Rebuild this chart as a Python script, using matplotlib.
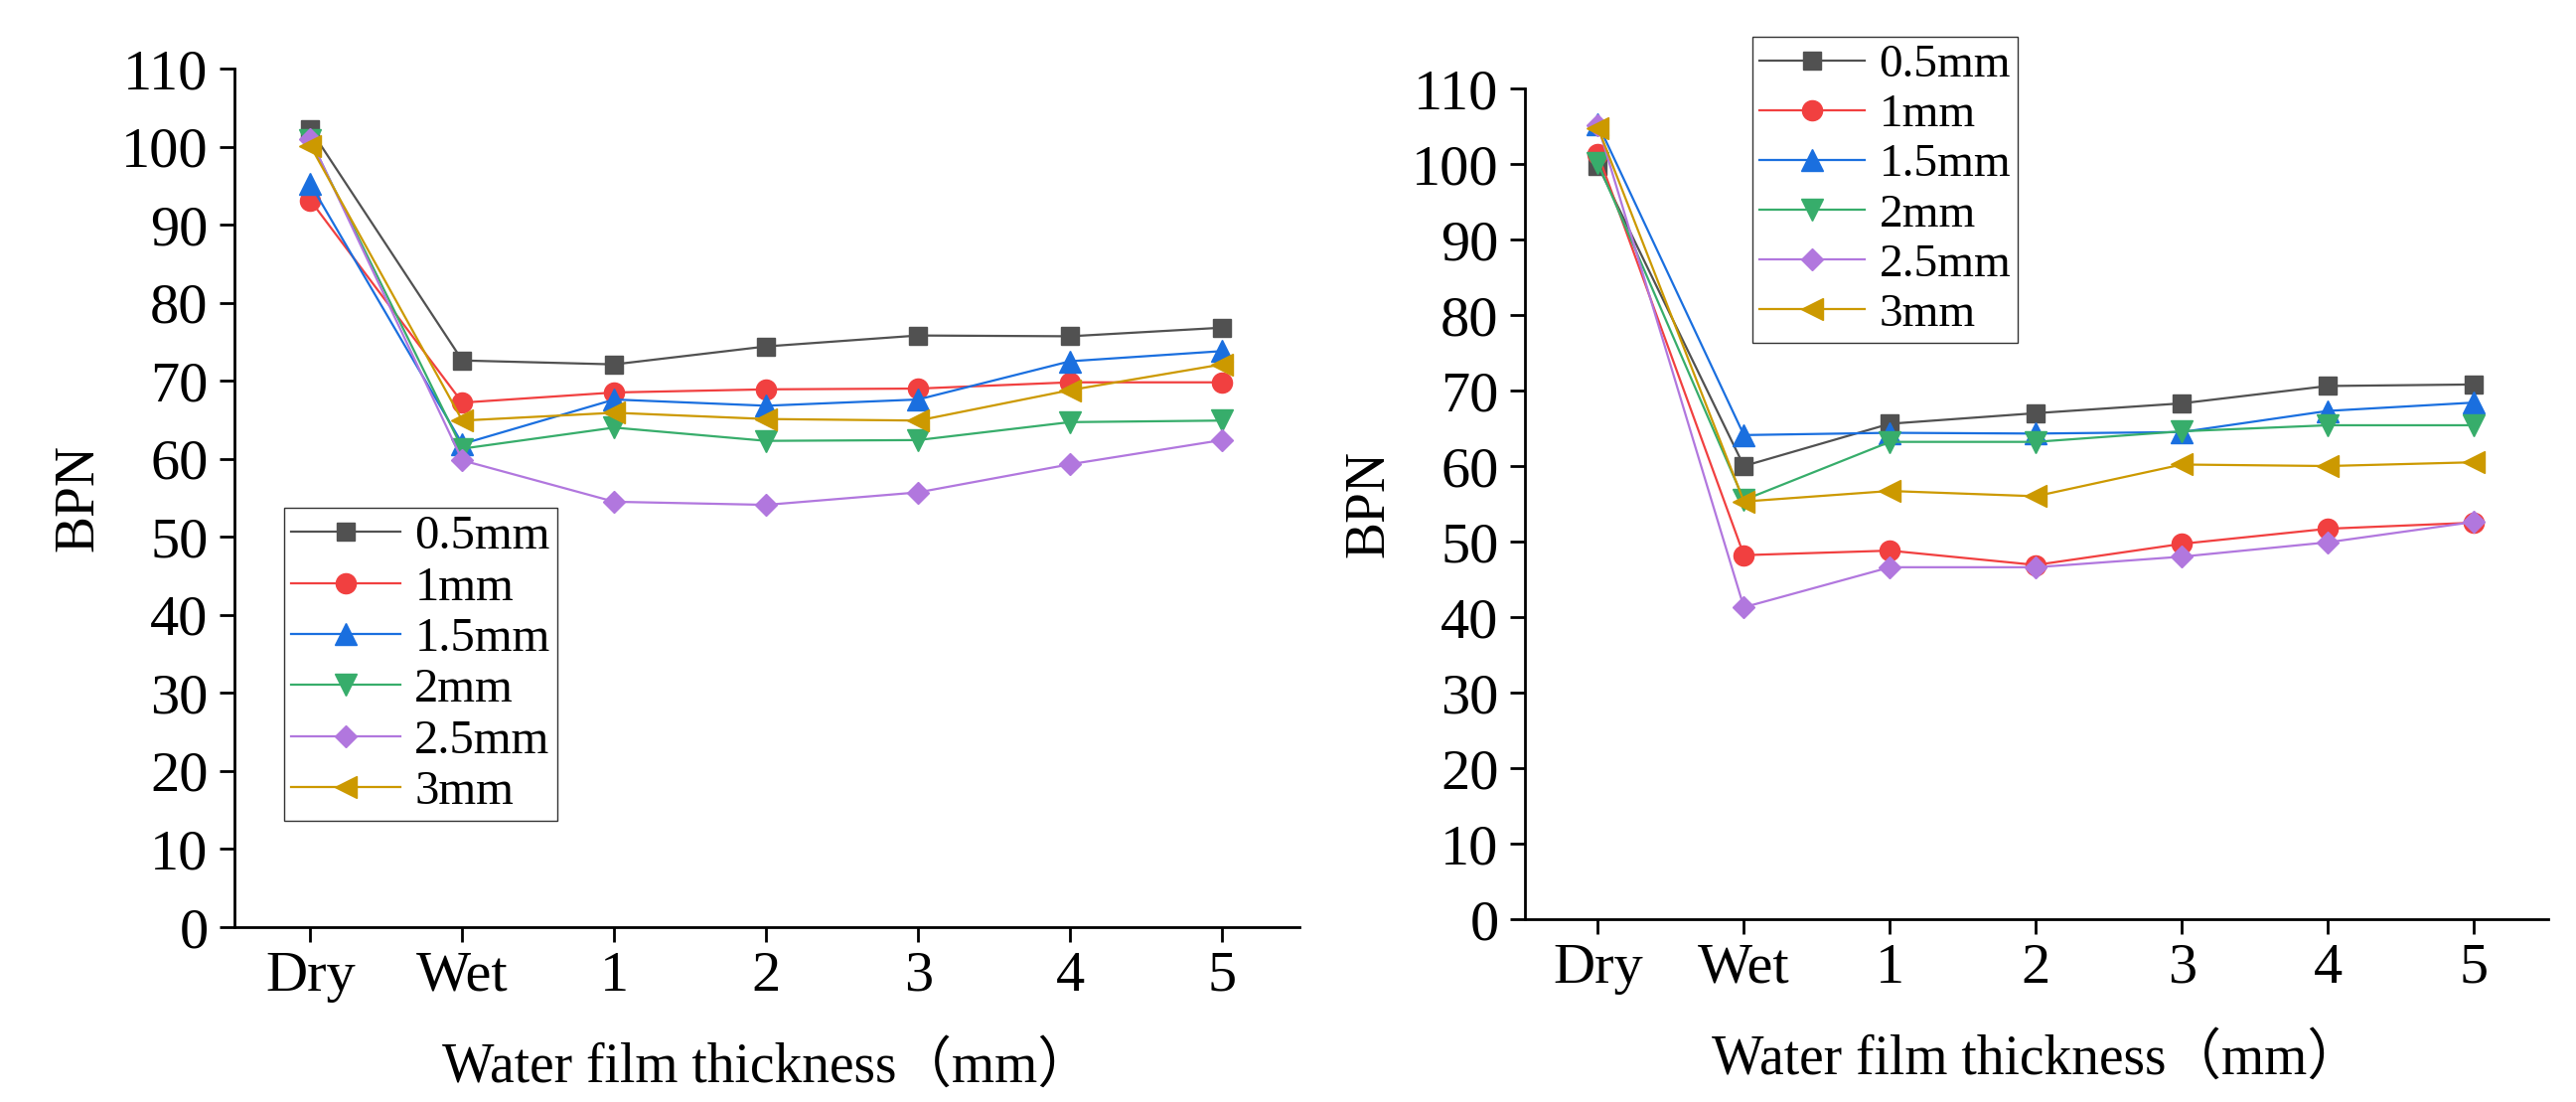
import matplotlib
matplotlib.use('Agg')
import matplotlib.pyplot as plt

plt.rcParams['font.family'] = ['Liberation Serif', 'Noto Sans CJK SC']

# ---------------- data ----------------
categories = ['Dry', 'Wet', '1', '2', '3', '4', '5']
series_labels = ['0.5mm', '1mm', '1.5mm', '2mm', '2.5mm', '3mm']

# left panel
left_05 = [102.2, 72.6, 72.1, 74.4, 75.8, 75.7, 76.8]
left_10 = [93.1, 67.2, 68.5, 68.9, 69.0, 69.8, 69.8]
left_15 = [95.2, 61.9, 67.6, 66.8, 67.6, 72.5, 73.8]
left_20 = [100.8, 61.3, 64.0, 62.3, 62.4, 64.7, 64.9]
left_25 = [101.0, 59.8, 54.5, 54.1, 55.7, 59.3, 62.4]
left_30 = [100.1, 64.9, 65.9, 65.1, 64.9, 68.8, 72.1]

# right panel
right_05 = [99.8, 60.0, 65.6, 67.0, 68.3, 70.6, 70.8]
right_10 = [101.3, 48.2, 48.8, 46.9, 49.7, 51.7, 52.5]
right_15 = [105.3, 64.1, 64.4, 64.3, 64.5, 67.3, 68.4]
right_20 = [100.1, 55.5, 63.2, 63.2, 64.6, 65.4, 65.4]
right_25 = [105.1, 41.3, 46.6, 46.6, 48.0, 49.9, 52.6]
right_30 = [104.8, 55.3, 56.7, 56.0, 60.2, 60.0, 60.5]

y_ticks = [0, 10, 20, 30, 40, 50, 60, 70, 80, 90, 100, 110]

colors = ['#515151', '#F14040', '#1A6FDF', '#37AD6B', '#B177DE', '#CC9900']
markers = ['s', 'o', '^', 'v', 'D', '<']
msizes = [13, 14.5, 16.5, 16.5, 11.5, 16.5]

W, H = 2593, 1109
fig = plt.figure(figsize=(W / 100, H / 100), dpi=100)


def rect(x0, x1, ytop, ybot):
    return [x0 / W, (H - ybot) / H, (x1 - x0) / W, (ybot - ytop) / H]


ax1 = fig.add_axes(rect(236, 1308, 69, 933))
ax2 = fig.add_axes(rect(1535, 2565, 89, 925))

tick_fs = 42
label_fs = 40


def style(ax, xpad):
    for s in ['top', 'right']:
        ax.spines[s].set_visible(False)
    for s in ['left', 'bottom']:
        ax.spines[s].set_linewidth(2.0)
    ax.set_xlim(-0.5, 6.51)
    ax.set_ylim(0, 110)
    ax.set_xticks(range(len(categories)))
    ax.set_xticklabels(categories)
    ax.set_yticks(y_ticks)
    ax.tick_params(axis='both', direction='out', length=11, width=2.0,
                   labelsize=tick_fs)
    ax.tick_params(axis='x', pad=6)
    ax.tick_params(axis='y', pad=8)
    ax.set_xlabel('Water film thickness（mm）', fontsize=label_fs, labelpad=xpad)
    ax.set_ylabel('BPN', fontsize=label_fs, labelpad=12)


def draw(ax, data):
    x = list(range(len(categories)))
    for vals, lab, c, m, ms in zip(data, series_labels, colors, markers, msizes):
        ax.plot(x, vals, color=c, marker=m, markersize=ms, markerfacecolor=c,
                markeredgecolor=c, markeredgewidth=1, linewidth=1.6, label=lab,
                clip_on=False)


draw(ax1, [left_05, left_10, left_15, left_20, left_25, left_30])
draw(ax2, [right_05, right_10, right_15, right_20, right_25, right_30])
style(ax1, 28)
style(ax2, 28)

leg_kw = dict(frameon=True, fancybox=False, framealpha=1, borderaxespad=0,
              handlelength=2.25, handletextpad=0.3, labelspacing=0.15,
              borderpad=0.15, bbox_transform=fig.transFigure, loc='upper left')

leg1 = ax1.legend(bbox_to_anchor=(286 / W, 1 - 511 / H), fontsize=35, **leg_kw)
leg2 = ax2.legend(bbox_to_anchor=(1764 / W, 1 - 37 / H), fontsize=34, **leg_kw)
for leg in (leg1, leg2):
    leg.get_frame().set_edgecolor('#333333')
    leg.get_frame().set_linewidth(1.0)

fig.savefig('out.png', dpi=100)
